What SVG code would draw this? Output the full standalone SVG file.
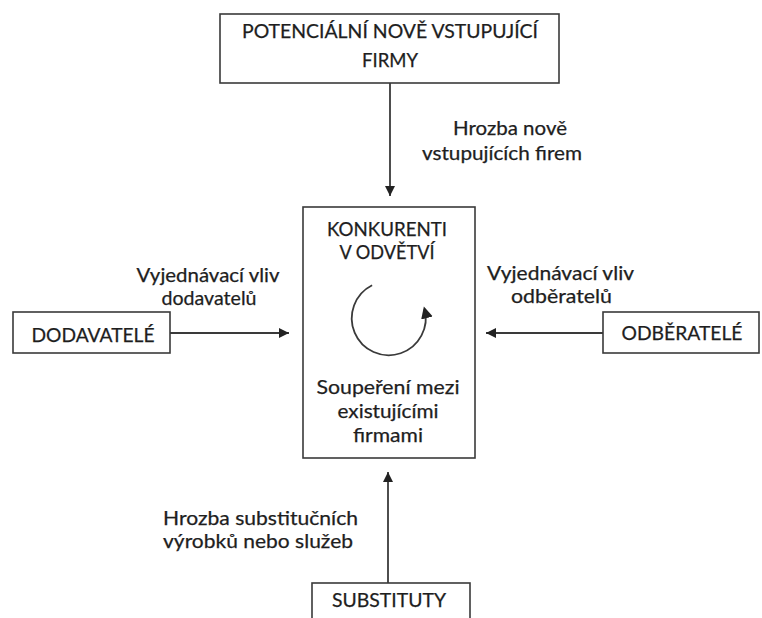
<svg xmlns="http://www.w3.org/2000/svg" width="762" height="618" viewBox="0 0 762 618">
<defs>
<style>
.box{fill:#fff;stroke:#3a3a3a;stroke-width:1.6}
.t{font-family:Lato,"Open Sans",sans-serif;font-size:19px;fill:#1e1e1e;stroke:#1e1e1e;stroke-width:0.25}
.c{text-anchor:middle}
.conn{stroke:#3a3a3a;stroke-width:1.8;fill:none}
</style>
<marker id="ah" viewBox="0 0 10 10" refX="10" refY="5" markerWidth="10" markerHeight="10" markerUnits="userSpaceOnUse" orient="auto">
<path d="M0,0 L10,5 L0,10 z" fill="#222"/>
</marker>
<marker id="ah2" viewBox="0 0 10 10" refX="8" refY="5" markerWidth="12" markerHeight="12" markerUnits="userSpaceOnUse" orient="auto">
<path d="M0,0 L10,5 L0,10 z" fill="#222"/>
</marker>
</defs>
<rect width="762" height="618" fill="#fff"/>
<g id="connectors">
<line class="conn" x1="390" y1="83" x2="390" y2="196" marker-end="url(#ah)"/>
<line class="conn" x1="170" y1="333" x2="289" y2="333" marker-end="url(#ah)"/>
<line class="conn" x1="603" y1="333" x2="486" y2="333" marker-end="url(#ah)"/>
<line class="conn" x1="388" y1="583" x2="388" y2="472" marker-end="url(#ah)"/>
</g>
<g id="potencialni">
<rect class="box" x="220" y="14" width="339" height="69"/>
<text class="t c" x="390" y="38" textLength="296" lengthAdjust="spacingAndGlyphs">POTENCIÁLNÍ NOVĚ VSTUPUJÍCÍ</text>
<text class="t c" x="390" y="67" textLength="56" lengthAdjust="spacingAndGlyphs">FIRMY</text>
</g>
<g id="label-top">
<text class="t" x="453" y="135" textLength="114" lengthAdjust="spacingAndGlyphs">Hrozba nově</text>
<text class="t" x="422" y="160" textLength="160" lengthAdjust="spacingAndGlyphs">vstupujících firem</text>
</g>
<g id="konkurenti">
<rect class="box" x="303" y="207" width="172" height="251"/>
<text class="t c" x="387" y="236" textLength="120" lengthAdjust="spacingAndGlyphs">KONKURENTI</text>
<text class="t c" x="387" y="259" textLength="95" lengthAdjust="spacingAndGlyphs">V ODVĚTVÍ</text>
<path class="conn" d="M372.1,285.2 A37,37 0 1 0 424.5,308.7" marker-end="url(#ah2)"/>
<text class="t c" x="388" y="394" textLength="143" lengthAdjust="spacingAndGlyphs">Soupeření mezi</text>
<text class="t c" x="388" y="418" textLength="101" lengthAdjust="spacingAndGlyphs">existujícími</text>
<text class="t c" x="388" y="442" textLength="70" lengthAdjust="spacingAndGlyphs">firmami</text>
</g>
<g id="label-left">
<text class="t c" x="208" y="282" textLength="143" lengthAdjust="spacingAndGlyphs">Vyjednávací vliv</text>
<text class="t c" x="209" y="305" textLength="95" lengthAdjust="spacingAndGlyphs">dodavatelů</text>
</g>
<g id="dodavatele">
<rect class="box" x="13" y="312" width="157" height="41"/>
<text class="t c" x="93" y="342" textLength="123" lengthAdjust="spacingAndGlyphs">DODAVATELÉ</text>
</g>
<g id="label-right">
<text class="t" x="487" y="280" textLength="147" lengthAdjust="spacingAndGlyphs">Vyjednávací vliv</text>
<text class="t" x="511" y="303" textLength="101" lengthAdjust="spacingAndGlyphs">odběratelů</text>
</g>
<g id="odberatele">
<rect class="box" x="603" y="312" width="156" height="41"/>
<text class="t c" x="682" y="340" textLength="121" lengthAdjust="spacingAndGlyphs">ODBĚRATELÉ</text>
</g>
<g id="label-bottom">
<text class="t" x="163" y="525" textLength="195" lengthAdjust="spacingAndGlyphs">Hrozba substitučních</text>
<text class="t" x="163" y="548" textLength="190" lengthAdjust="spacingAndGlyphs">výrobků nebo služeb</text>
</g>
<g id="substituty">
<rect class="box" x="312" y="583" width="158" height="50"/>
<text class="t c" x="389" y="607" textLength="114" lengthAdjust="spacingAndGlyphs">SUBSTITUTY</text>
</g>
</svg>
